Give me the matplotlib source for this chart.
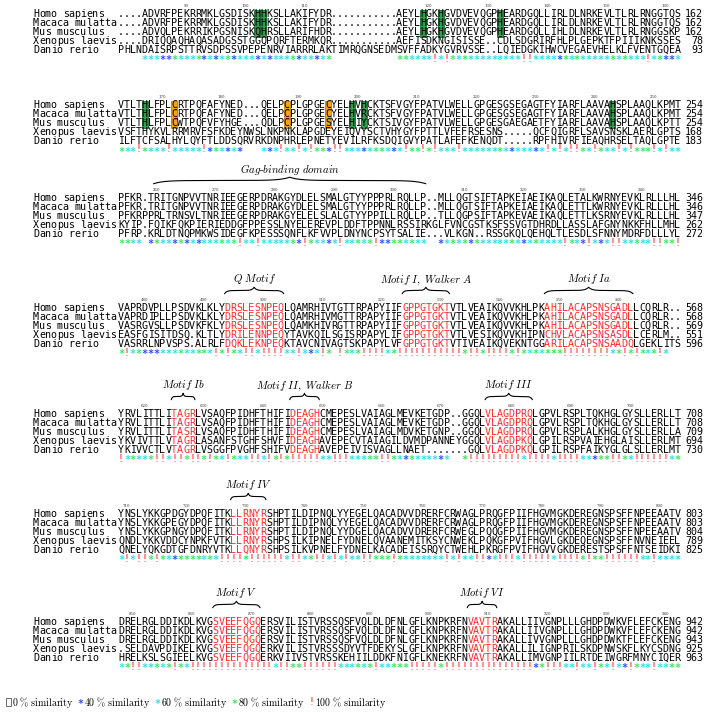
import matplotlib
matplotlib.use("Agg")
import matplotlib.pyplot as plt
from matplotlib.patches import Rectangle
import numpy as np

species = ["Homo sapiens", "Macaca mulatta", "Mus musculus", "Xenopus laevis", "Danio rerio"]

# similarity codes: ' ' 0 %, 'b' 40 %, 'c' 60 %, 'g' 80 %, '!' 100 %

# ---------------- block 1 ----------------
b1_seqs = [
    "....ADVRFPEKRRMKLGSDISKHHKSLLAKIFYDR...........AEYLHGKHGVDVEVQGPHEARDGQLLIRLDLNRKEVLTLRLRNGGTQS",
    "....ADVRFPEKRRMKLGSDISKHHKSLLAKIFYDR...........AEYLHGKHGVDVEVQGPHEARDGQLLIRLDLNRKEVLTLRLRNGGTQS",
    "....ADVQLPEKRRIKPGSNISKQHRSLLARIFHDR...........AEYLHGKHGVDVEVQGPHEARDGQLLIHLDLNRKEVLTLRLRNGGSKP",
    "....DRIQQAQHAQASADGSSTGGQPQRFTERMKQR...........AEFISDKNGISISSE..CDLSDGRIRFHLPLGEPKTFPIIIKNKSSES",
    "PHLNDAISRPSTTRVSDPSSVPEPENRVIARRRLAKTIMRQGNSEDMSVFFADKYGVRVSSE..LQIEDGKIHWCVEGAEVHELKLFVENTGQEA",
]
b1_ends = [162, 162, 162, 78, 93]
b1_sim = ("    " + "cccbbgcccgbcbcgbcccbcbcccgbccbcg" + "           "
          + "ggcccc!c!gcg" + "ccccccccc" + "!!" + "cccc" + "bgcg" + "ccccc" + "gcg" + "ccc" + "!" + "cgbbc")
b1_ruler = [90, 100, 110, 120, 130, 140, 150, 160]
b1_ruler_cols = [11, 21, 31, 52, 62, 72, 82, 92]
b1_green = [23, 24, 51, 54, 64]
b1_orange = []

# ---------------- block 2 ----------------
b2_seqs = [
    "VTLTHLFPLCRTPQFAFYNED...QELPCPLGPGECYELHVHCKTSFVGYFPATVLWELLGPGESGSEGAGTFYIARFLAAVAHSPLAAQLKPMT",
    "VTLTHLFPLCRTPQFAFYNED...QELPCPLGPGECYELHVRCKTSFVGYFPATVLWELLGPGESGSEGAGTFYIARFLAAVAHSPLAAQLKPMT",
    "VTLTHLFPLCWTPQFVFYHGE...QDLPCPLGPGESYELHIYCKTSIVGYFPATVLWELLGPGESGAEGAETFYIARFLAAVAHSPLAAQLKPTT",
    "VSFTHYKVLRRMRVFSFKDEYNWSLNKPNKLAPGDEYEIQVYSCTVHYGYFPTTLVFEFRSESNS.....QCFQIGRFLSAVSNSKLAERLGPTS",
    "ILFTCFSALHYLQYFTLDDSQRVRKDNPHRLEPNETYEVILRFKSDQIGVYPATLAFEFKENQDT.....RPFHIVRFIEAQHRSELTAQLGPTE",
]
b2_ends = [254, 254, 254, 168, 183]
b2_sim = ("gcc!gccc!c" "cccc!bgcbc" "b   cbc!cc" "!c!ggb!!cc" "cbcggcbc!g"
          "g!g!ccc!cc" "ccccgcbccc" "bc!c!c!!gc" "!gcc!c!ggg" "!c!cc")
b2_ruler = [170, 180, 190, 200, 210, 220, 230, 240, 250]
b2_ruler_cols = [7, 17, 30, 40, 50, 60, 70, 80, 90]
b2_green = [4, 39, 41, 83]
b2_orange = [9, 28, 35]

# ---------------- block 3 ----------------
b3_seqs = [
    "PFKR.TRITGNPVVTNRIEEGERPDRAKGYDLELSMALGTYYPPPRLRQLLP..MLLQGTSIFTAPKEIAEIKAQLETALKWRNYEVKLRLLLHL",
    "PFKR.TRITGNPVVTNRIEEGERPDRAKGYDLELSMALGTYYPPPRLRQLLP..MLLQGTSIFTAPKEIAEIKAQLETTLKWRNYEVKLRLLLHL",
    "PFKRPPRLTRNSVLTNRIEEGERPDRAKGYELELSLALGTYYPPILLRQLLP..TLLQGPSIFTAPKEVAEIKAQLETTLKSRNYEVKLRLLLHL",
    "KYIP.FQIKFQKPIERIEDDGFPPESSLNYELEREVPLDDFTPPNNLRSSIRKGLFVNCGSTKSFSSVGTDHRDLLASSLAFGNYNKKFHLLMHL",
    "PFRP.KRLDTNQPMKWSIDEGFKPESSSQNFLKFVVPLDNYNCPSYTSALIE...VLKGN..RSSGKQLQEHQLTLESDLSFNNYMDRFDLLLYL",
]
b3_ends = [346, 346, 347, 262, 272]
b3_sim = ("ggcc bgccb" "gbcbcccgcg" "!cc!cccccg" "b!gccbc!cc" "gcg!bbggcg"
          "cc  bcgcgb" "gcccccgcbc" "gcccc!gcb!" "cbc!!ccgcc" "!!gg!")
b3_ruler = [260, 270, 280, 290, 300, 310, 320, 330, 340]
b3_ruler_cols = [6, 16, 26, 36, 46, 58, 68, 78, 88]
b3_green = []
b3_orange = []

# ---------------- block 4 ----------------
b4_seqs = [
    "VAPRDVPLLPSDVKLKLYDRSLESNPEQLQAMRHIVTGTTRPAPYIIFGPPGTGKTVTLVEAIKQVVKHLPKAHILACAPSNSGADLLCQRLR..",
    "VAPRDIPLLPSDVKLKLYDRSLESNPEQLQAMRHIVMGTTRPAPYIIFGPPGTGKTVTLVEAIKQVVKHLPKAHILACAPSNSGADLLCQRLR..",
    "VASRGVSLLPSDVKFKLYDRSLESNPEQLQAMKHIVRGTTRPAPYIIFGPPGTGKTVTLVEAIKQVVKHLPKAHILACAPSNSGADLLCQRLR..",
    "EASFGISITDSQ.KLTLYDRILENNPEQYTAVKQILSGISRPAPYLIFGPPGTGKTVTLVESIKQVVKHIPNCHVLACAPSNSASDLLCERLM..",
    "VASRRLNPVSPS.ALRLFDQKLEKNPEQKTAVCNIVAGTSKPAPYLVFGPPGTGKTVTIVEAIKQVEKNTGGARILACAPSNSAADQLGEKLITS",
]
b4_ends = [568, 568, 569, 551, 596]
b4_sim = ("g!cgbbbccc" "gccggc!g!g" "c!!c!!!!cc" "!cbc!g !gc" "g!!!!cg!!!"
          "!!!!!!!!g!" "!g!!!!g!gc" "gcggg!!!!!" "!!!cg!g!gc" "g!c  ")
b4_ruler = [480, 490, 500, 510, 520, 530, 540, 550, 560]
b4_ruler_cols = [4, 14, 24, 34, 44, 54, 64, 74, 84]
b4_green = []
b4_orange = []

# ---------------- block 5 ----------------
b5_seqs = [
    "YRVLITTLITAGRLVSAQFPIDHFTHIFIDEAGHCMEPESLVAIAGLMEVKETGDP..GGQLVLAGDPRQLGPVLRSPLTQKHGLGYSLLERLLT",
    "YRVLITTLITAGRLVSAQFPIDHFTHIFIDEAGHCMEPESLVAIAGLMEVKETGDP..GGQLVLAGDPRQLGPVLRSPLTQKHGLGYSLLERLLT",
    "YRVLITTLITASRLVSAQFPIDHFTHIFIDEAGHCMEPESLVAIAGLMDVKETGNP..GGQLVLAGDPRQLGPVLRSPLALKHGLGYSLLERLLA",
    "YKVIVTTLVTAGRLASANFSTGHFSHVFIDEAGHAVEPECVTAIAGILDVMDPANNEYGGQLVLAGDPKQLGPILRSPVAIEHGLAISLLERLMT",
    "YKIVVCTLVTAGRLVSGGFPVGHFSHIFVDEAGHAVEPEIVISVAGLLNAET.......GQLVLAGDPKQLGPILRSPFAIKYGLGLSLLERLMT",
]
b5_ends = [708, 708, 709, 694, 730]
b5_sim = ("!cgccg!!c!" "!g!!g!gc!g" "cc!!c!g!g!" "!!!!cc!!!c" "ccgg!!gcbg"
          "ccccbc  g!" "!!!!!!!!c!" "!!!c!!!!cc" "bgg!!gc!!!" "!!!cg")
b5_ruler = [620, 630, 640, 650, 660, 670, 680, 690, 700]
b5_ruler_cols = [4, 14, 24, 34, 44, 54, 66, 76, 86]
b5_green = []
b5_orange = []

# ---------------- block 6 ----------------
b6_seqs = [
    "YNSLYKKGPDGYDPQFITKLLRNYRSHPTILDIPNQLYYEGELQACADVVDRERFCRWAGLPRQGFPIIFHGVMGKDEREGNSPSFFNPEEAATV",
    "YNSLYKKGPEGYDPQFITKLLRNYRSHPTILDIPNQLYYEGELQACADVVDRERFCRWAGLPRQGFPIIFHGVMGKDEREGNSPSFFNPEEAATV",
    "YNSLYKKGPNGYDPQFITKLLRNYRSHPTILDIPNQLYYDGELQACADVVDRERFCRWEGLPQQGFPIIFHGVMGKDEREGNSPSFFNPEEAATV",
    "QNDLYKKVDDCYNPKFVTKLLRNYRSHPSILKIPNELFYDNELQVAANEMITKSYCNWEKLPQKGFPVIFHGVLGKDEQEGNSPSFFNVNEIEEL",
    "QNELYQKGDTGFDNRYVTKLLQNYRSHPSILKVPNELFYDNELKACADEISSRQYCTWEHLPKRGFPVIFHGVVGKDERESTSPSFFNTSEIDKI",
]
b6_ends = [803, 803, 804, 789, 825]
b6_sim = ("c!c!!g!gcb" "ggggcgc!!!" "!g!!!!!!c!" "!cg!!c!c!c" "c!!ggg!gcc"
          "ccccc!c!cc" "!!bc!!!c!!" "!!!c!!!!g!" "gg!!!!!!cc" "!cccc")
b6_ruler = [710, 720, 730, 740, 750, 760, 770, 780, 790, 800]
b6_ruler_cols = [1, 11, 21, 31, 41, 51, 61, 71, 81, 91]
b6_green = []
b6_orange = []

# ---------------- block 7 ----------------
b7_seqs = [
    "DRELRGLDDIKDLKVGSVEEFQGQERSVILISTVRSSQSFVQLDLDFNLGFLKNPKRFNVAVTRAKALLIIVGNPLLLGHDPDWKVFLEFCKENG",
    "DRELRGLDDIKDLKVGSVEEFQGQERSVILISTVRSSQSFVQLDLDFNLGFLKNPKRFNVAVTRAKALLIIVGNPLLLGHDPDWKVFLEFCKENG",
    "DRELRGLDDIKDLKVGSVEEFQGQERSVILISTVRSSQSFVQLDLDFNLGFLKNPKRFNVAVTRAKALLIVVGNPLLLGHDPDWKTFLEFCKENG",
    ".SELDAVPDIKELKVGSVEEFQGQERKVILISTVRSSSDYVTFDEKYSLGFLKNPKRFNVAVTRAKALLILIGNPRILSKDPNWSKFLKYCSDNG",
    "HRELKSLSGIEELKVGSVEEFQGQERKVIIVSTVRSSKEHIILDDKFNIGFLKNEKRFNVAVTRAKALLIMVGNPIILRTDEIWGRFMNYCIQER",
]
b7_ends = [942, 942, 943, 925, 963]
b7_sim = ("cg!!ccgcg!" "gc!!!!!!!!" "!!!!!!c!!g" "g!!!!!!ccc" "gcg!ccggg!"
          "!!!!g!!!!!" "!!!!!!!!!!" "bg!!!cc!cc" "!gc!cb!gcc" "!ccgg")
b7_ruler = [850, 860, 870, 880, 890, 900, 910, 920, 930, 940]
b7_ruler_cols = [2, 12, 22, 32, 42, 52, 62, 72, 82, 92]
b7_green = []
b7_orange = []

# motif (red) column ranges and labels
b3_motifs = []
b4_motifs = [(18, 27), (48, 55), (72, 86)]
b5_motifs = [(9, 12), (29, 33), (62, 69)]
b6_motifs = [(19, 24)]
b7_motifs = [(16, 23), (59, 63)]

b3_braces = [(6, 51, r"Gag\text{-}binding\ domain")]
b4_braces = [(18, 27, r"Q\ Motif"), (48, 55, r"Motif\ I,\ Walker\ A"), (72, 86, r"Motif\ Ia")]
b5_braces = [(9, 12, r"Motif\ Ib"), (29, 33, r"Motif\ II,\ Walker\ B"), (62, 69, r"Motif\ III")]
b6_braces = [(19, 24, r"Motif\ IV")]
b7_braces = [(16, 23, r"Motif\ V"), (59, 63, r"Motif\ VI")]

legend_labels = ["0 % similarity", "40 % similarity", "60 % similarity", "80 % similarity", "100 % similarity"]

blocks = [
    dict(seqs=b1_seqs, ends=b1_ends, sim=b1_sim, ruler=b1_ruler, rcols=b1_ruler_cols, green=b1_green, orange=b1_orange, motifs=[], braces=[], y=14),
    dict(seqs=b2_seqs, ends=b2_ends, sim=b2_sim, ruler=b2_ruler, rcols=b2_ruler_cols, green=b2_green, orange=b2_orange, motifs=[], braces=[], y=105),
    dict(seqs=b3_seqs, ends=b3_ends, sim=b3_sim, ruler=b3_ruler, rcols=b3_ruler_cols, green=b3_green, orange=b3_orange, motifs=b3_motifs, braces=b3_braces, y=198),
    dict(seqs=b4_seqs, ends=b4_ends, sim=b4_sim, ruler=b4_ruler, rcols=b4_ruler_cols, green=b4_green, orange=b4_orange, motifs=b4_motifs, braces=b4_braces, y=308),
    dict(seqs=b5_seqs, ends=b5_ends, sim=b5_sim, ruler=b5_ruler, rcols=b5_ruler_cols, green=b5_green, orange=b5_orange, motifs=b5_motifs, braces=b5_braces, y=414),
    dict(seqs=b6_seqs, ends=b6_ends, sim=b6_sim, ruler=b6_ruler, rcols=b6_ruler_cols, green=b6_green, orange=b6_orange, motifs=b6_motifs, braces=b6_braces, y=514),
    dict(seqs=b7_seqs, ends=b7_ends, sim=b7_sim, ruler=b7_ruler, rcols=b7_ruler_cols, green=b7_green, orange=b7_orange, motifs=b7_motifs, braces=b7_braces, y=622),
]

# ---------------- styling ----------------
W, H = 709, 712
X0 = 118.0        # x of first residue column (px)
CW = 5.92         # column width (px)
RH = 9.0          # row height (px)
NAME_X = 33.0
END_X = 703.0
MONO = "DejaVu Sans Mono"
FS = 7.2
RED = "#ff2a2a"
SIM_COLORS = {"b": "#2f48ff", "c": "#30dde6", "g": "#3fe35a", "!": "#ff2020"}
GREEN_BOX = ("#2f9e4e", "#1c6a33")
ORANGE_BOX = ("#f4a21c", "#c47a0a")

plt.rcParams["mathtext.fontset"] = "cm"

fig = plt.figure(figsize=(W / 100, H / 100), dpi=100)
ax = fig.add_axes([0, 0, 1, 1])
ax.set_xlim(0, W)
ax.set_ylim(H, 0)
ax.axis("off")


def colx(c):
    return X0 + c * CW


def brace(ax, x0, x1, y, h=6.0, lw=0.8):
    # curly brace: ends hang down at y+h/2, tip points up to y-h/2 at centre
    t = np.linspace(0, 1, 80)
    L = (x1 - x0) / 2
    xm = x0 + L
    ys1 = y + h / 2 - (h / 2) * (1 - np.exp(-14 * t)) - (h / 2) * np.exp(-14 * (1 - t))
    ys2 = ys1[::-1]
    ax.plot(np.r_[x0 + L * t, xm + L * t], np.r_[ys1, ys2], color="black", lw=lw,
            solid_capstyle="round")


def put_row(ax, s, y, colors):
    for i, ch in enumerate(s):
        if ch == " ":
            continue
        ax.text(colx(i) + CW / 2, y, ch, family=MONO, fontsize=FS, ha="center", va="center",
                color=colors[i], zorder=3)


for blk in blocks:
    y0 = blk["y"]
    ncol = len(blk["seqs"][0])
    # ruler
    for lab, c in zip(blk["ruler"], blk["rcols"]):
        ax.text(colx(c) + CW / 2, y0 - 8.0, str(lab), fontsize=2.8, ha="center", va="center",
                family="DejaVu Serif", color="#333333")
    # braces
    for (a, b, lab) in blk["braces"]:
        xa, xb = colx(a), colx(b + 1)
        brace(ax, xa, xb, y0 - 17.5, h=6.5)
        ax.text((xa + xb) / 2, y0 - 28.5, "$\\mathit{" + lab + "}$", fontsize=7.8,
                ha="center", va="center")
    red = np.zeros(ncol, bool)
    for (a, b) in blk["motifs"]:
        red[a:b + 1] = True
    cols = [RED if r else "black" for r in red]
    for r, (name, seq, end) in enumerate(zip(species, blk["seqs"], blk["ends"])):
        yr = y0 + r * RH
        if r < 3:
            for hl, (fc, ec) in ((blk["green"], GREEN_BOX), (blk["orange"], ORANGE_BOX)):
                for c in hl:
                    ax.add_patch(Rectangle((colx(c), yr - RH / 2), CW, RH, facecolor=fc,
                                           edgecolor=ec, lw=0.6, zorder=1))
        for i, ch in enumerate(name):
            if ch != " ":
                ax.text(NAME_X + i * CW + CW / 2, yr, ch, family=MONO, fontsize=FS,
                        ha="center", va="center", zorder=3)
        ax.text(END_X, yr, str(end), family=MONO, fontsize=FS, ha="right", va="center", zorder=3)
        put_row(ax, seq, yr, cols)
    # similarity line
    ys = y0 + 5 * RH - 0.5
    sim = blk["sim"].ljust(ncol)[:ncol]
    for i, ch in enumerate(sim):
        if ch == " ":
            continue
        if ch == "!":
            ax.text(colx(i) + CW / 2, ys, "!", family=MONO, fontsize=FS, ha="center",
                    va="center", color=SIM_COLORS["!"], zorder=3)
        else:
            ax.text(colx(i) + CW / 2, ys + 2.0, "*", family=MONO, fontsize=FS, ha="center",
                    va="center", color=SIM_COLORS[ch], zorder=3, fontweight="bold")

# legend
ly = 702
lx = 6
ax.add_patch(Rectangle((lx, ly - 4), 4.5, 8, facecolor="white", edgecolor="#555555", lw=0.6))
lx += 6
syms = [("", None), ("*", SIM_COLORS["b"]), ("*", SIM_COLORS["c"]), ("*", SIM_COLORS["g"]), ("!", SIM_COLORS["!"])]
for lab, (sym, col) in zip(legend_labels, syms):
    if sym:
        ax.text(lx, ly + (2 if sym == "*" else 0), sym, family=MONO, fontsize=7, color=col,
                ha="left", va="center", fontweight="bold" if sym == "*" else "normal")
        lx += 6.5
    t = ax.text(lx, ly, "$\\mathrm{" + lab.replace(" ", "\\ ").replace("%", "\\%") + "}$",
                fontsize=7.1, ha="left", va="center")
    fig.canvas.draw()
    bb = t.get_window_extent()
    lx += bb.width + 4

fig.savefig("out.png", dpi=100)
